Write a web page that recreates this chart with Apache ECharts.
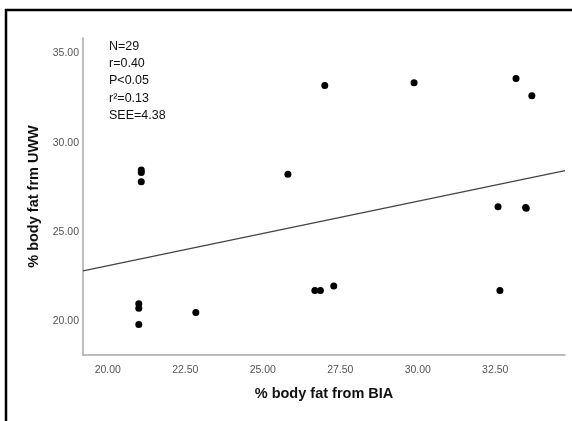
<!DOCTYPE html>
<html>
<head>
<meta charset="utf-8">
<script src="https://cdn.jsdelivr.net/npm/echarts@6/dist/echarts.min.js"></script>
<style>html,body{margin:0;padding:0;background:#fff;}#c{width:572px;height:421px;}</style>
</head>
<body>
<div id="c"></div>
<script>
// Scatter points: % body fat from BIA (x) vs % body fat from UWW (y)
const bia = [21.08, 21.08, 21.08, 21.0, 21.0, 21.0, 22.84, 25.81, 27.0, 29.88, 33.17, 33.68, 32.59, 33.48, 33.5, 26.68, 26.86, 27.29, 32.65];
const uww = [28.47, 28.33, 27.82, 20.99, 20.74, 19.82, 20.5, 28.23, 33.2, 33.35, 33.6, 32.63, 26.41, 26.37, 26.33, 21.73, 21.73, 21.98, 21.73];
// Fit line endpoints
const fitX = [19.2, 34.75];
const fitY = [22.83, 28.44];
const xTicks = [20, 22.5, 25, 27.5, 30, 32.5];
const yTicks = [20, 25, 30, 35];
const statsText = ['N=29', 'r=0.40', 'P<0.05', 'r\u00B2=0.13', 'SEE=4.38'];

const chart = echarts.init(document.getElementById('c'));
const labelFont = {color: '#555', fontSize: 10.5, fontFamily: 'Liberation Sans, Arial, sans-serif'};
chart.setOption({
  animation: false,
  backgroundColor: '#fff',
  grid: {left: 83, top: 38, right: 7, bottom: 66},
  xAxis: {
    type: 'value', min: 19.2, max: 34.75,
    name: '% body fat from BIA', nameLocation: 'middle', nameGap: 31,
    nameTextStyle: {color: '#111', fontSize: 14.5, fontWeight: 'bold', fontFamily: 'Liberation Sans, Arial, sans-serif'},
    axisLine: {show: true, lineStyle: {color: '#a8a8a8', width: 1.5}},
    axisTick: {show: false},
    splitLine: {show: false},
    axisLabel: Object.assign({customValues: xTicks, margin: 10, formatter: v => v.toFixed(2)}, labelFont)
  },
  yAxis: {
    type: 'value', min: 18.12, max: 35.86,
    name: '% body fat frm UWW', nameLocation: 'middle', nameGap: 42, nameRotate: 90,
    nameTextStyle: {color: '#111', fontSize: 14.5, fontWeight: 'bold', fontFamily: 'Liberation Sans, Arial, sans-serif'},
    axisLine: {show: true, lineStyle: {color: '#a8a8a8', width: 1.5}},
    axisTick: {show: false},
    splitLine: {show: false},
    axisLabel: Object.assign({customValues: yTicks, margin: 4, formatter: v => v.toFixed(2)}, labelFont)
  },
  series: [
    {
      type: 'line', data: fitX.map((x, i) => [x, fitY[i]]), symbol: 'none',
      lineStyle: {color: '#444', width: 1.3}, z: 2
    },
    {
      type: 'scatter', data: bia.map((x, i) => [x, uww[i]]), symbolSize: 7,
      itemStyle: {color: '#000', opacity: 1}, z: 3
    }
  ],
  graphic: [
    {type: 'line', shape: {x1: 5, y1: 10, x2: 572, y2: 10}, style: {stroke: '#000', lineWidth: 2.5}},
    {type: 'line', shape: {x1: 6, y1: 9, x2: 6, y2: 421}, style: {stroke: '#000', lineWidth: 2.5}},
    {type: 'text', left: 109, top: 38, style: {text: statsText.join('\n'), fill: '#111', fontSize: 12.5, lineHeight: 17.2, fontFamily: 'Liberation Sans, Arial, sans-serif'}}
  ]
});
</script>
</body>
</html>
